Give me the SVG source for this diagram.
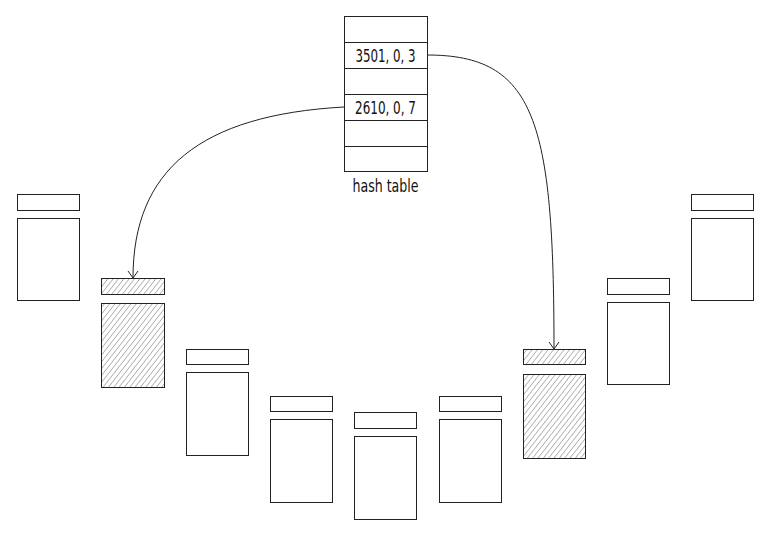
<svg xmlns="http://www.w3.org/2000/svg" width="771" height="537" viewBox="0 0 771 537">
<defs>
<style>
.box{fill:#fff;stroke:#222;stroke-width:1}
.hatch{fill:url(#h);stroke:#222;stroke-width:1}
.lbl{font-family:"DejaVu Sans Condensed","Liberation Sans",sans-serif;font-size:18.5px;fill:#111;text-anchor:middle}
.conn{fill:none;stroke:#222;stroke-width:1}
</style>
<pattern id="h" width="4.2" height="10" patternUnits="userSpaceOnUse" patternTransform="rotate(38)">
<rect width="4.2" height="10" fill="#fff"/>
<line x1="0" y1="0" x2="0" y2="10" stroke="#666" stroke-width="0.9"/>
</pattern>
<marker id="arr" markerWidth="12" markerHeight="12" refX="10" refY="6" orient="auto" markerUnits="userSpaceOnUse" viewBox="0 0 12 12">
<path d="M3,1 L10,6 L3,11" fill="none" stroke="#222" stroke-width="1"/>
</marker>
</defs>
<rect width="771" height="537" fill="#fff"/>
<g id="hashtable">
<rect class="box" x="344.5" y="16.5" width="83" height="155"/>
<line class="conn" x1="344.5" y1="42.5" x2="427.5" y2="42.5"/>
<line class="conn" x1="344.5" y1="68.5" x2="427.5" y2="68.5"/>
<line class="conn" x1="344.5" y1="94.5" x2="427.5" y2="94.5"/>
<line class="conn" x1="344.5" y1="120.5" x2="427.5" y2="120.5"/>
<line class="conn" x1="344.5" y1="146.5" x2="427.5" y2="146.5"/>
<text class="lbl" x="385.5" y="62" textLength="60" lengthAdjust="spacingAndGlyphs">3501, 0, 3</text>
<text class="lbl" x="385.5" y="114" textLength="61" lengthAdjust="spacingAndGlyphs">2610, 0, 7</text>
<text class="lbl" x="385.5" y="192" textLength="66" lengthAdjust="spacingAndGlyphs">hash table</text>
</g>
<g id="col1"><rect class="box" x="17.5" y="194.5" width="62" height="16"/><rect class="box" x="17.5" y="218.5" width="62" height="82"/></g>
<g id="col2"><rect class="hatch" x="101.5" y="278.5" width="63" height="16"/><rect class="hatch" x="101.5" y="303.5" width="63" height="84"/></g>
<g id="col3"><rect class="box" x="186.5" y="349.5" width="62" height="15"/><rect class="box" x="186.5" y="372.5" width="62" height="83"/></g>
<g id="col4"><rect class="box" x="270.5" y="396.5" width="62" height="15"/><rect class="box" x="270.5" y="419.5" width="62" height="83"/></g>
<g id="col5"><rect class="box" x="354.5" y="412.5" width="62" height="16"/><rect class="box" x="354.5" y="436.5" width="62" height="83"/></g>
<g id="col6"><rect class="box" x="439.5" y="396.5" width="62" height="15"/><rect class="box" x="439.5" y="419.5" width="62" height="83"/></g>
<g id="col7"><rect class="hatch" x="523.5" y="349.5" width="62" height="15"/><rect class="hatch" x="523.5" y="374.5" width="62" height="84"/></g>
<g id="col8"><rect class="box" x="607.5" y="278.5" width="62" height="16"/><rect class="box" x="607.5" y="302.5" width="62" height="82"/></g>
<g id="col9"><rect class="box" x="691.5" y="194.5" width="62" height="16"/><rect class="box" x="691.5" y="218.5" width="62" height="82"/></g>
<g id="connectors">
<path class="conn" d="M344,107 C200,115 133,170 133,278" marker-end="url(#arr)"/>
<path class="conn" d="M427,55 C535,55 554,120 554,349" marker-end="url(#arr)"/>
</g>
</svg>
